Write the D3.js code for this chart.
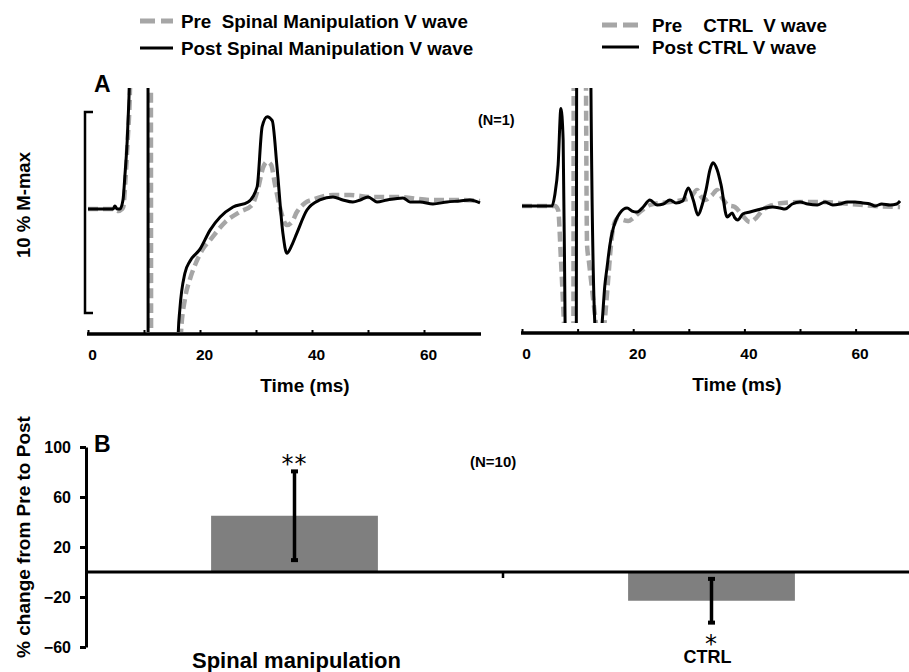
<!DOCTYPE html>
<html>
<head>
<meta charset="utf-8">
<script src="https://cdn.jsdelivr.net/npm/d3@7"></script>
<style>
  body { margin: 0; background: #fff; }
  svg { display: block; font-family: "Liberation Sans", Arial, sans-serif; font-weight: bold; }
</style>
</head>
<body>
<div id="chart"></div>
<script>
// ---- data (time in ms, amplitude in % M-max) ----
const timeTicks = [0, 10, 20, 30, 40, 50, 60];
const timeLabels = [0, 20, 40, 60];

// spinal manipulation, N=1 traces
const smPre = [[0,0],[4.8,0],[5.4,-0.1],[6.1,0],[6.3,0.1],[6.7,1.5],[7.1,3.5],[7.5,6],[7.7,9],[11.2,15],[11.3,-15],[16.0,-15],
  [16.6,-6.2],[17.3,-4.5],[18.2,-3.5],[19.1,-2.8],[20.5,-2.0],[21.8,-1.55],[24.5,-0.65],[27.1,-0.15],[29.3,0.2],
  [30.4,1.05],[31.25,2.05],[32,2.35],[32.7,2.2],[33.4,1.2],[34.3,0.05],[35.5,-0.8],[36.4,-0.65],[37.3,-0.15],
  [38.75,0.3],[40.5,0.5],[43.75,0.7],[46.8,0.7],[50.4,0.6],[55.7,0.6],[61,0.45],[66.4,0.45],[70,0.4]];
const smPost = [[0,0],[4.5,0],[4.8,0.15],[5.2,0],[5.7,0],[6.25,0.45],[6.6,1.7],[7.0,3.4],[7.3,5.4],[7.6,8],[10.7,15],[10.75,-15],[15.9,-15],
  [16.1,-6.3],[16.4,-5.0],[17.3,-3.2],[18.2,-2.6],[20.0,-2.0],[21.8,-1.05],[23.6,-0.4],[25.9,0.1],[28.6,0.35],
  [30.2,1.1],[31.1,4.1],[32.0,4.6],[32.9,4.4],[33.75,2.1],[34.8,-1.2],[35.5,-2.2],[36.4,-1.8],[37.3,-1.2],
  [39.1,-0.05],[41.4,0.45],[43.75,0.6],[45.5,0.45],[47.3,0.35],[48.6,0.45],[50,0.6],[51.6,0.35],[53.4,0.45],
  [56.25,0.55],[57.5,0.35],[59.3,0.35],[61.6,0.25],[64.1,0.35],[66.4,0.4],[68.2,0.45],[70,0.3]];

// control, N=1 traces
const ctrlPre = [[0,-0.05],[5.9,-0.05],[6.5,-0.25],[7.0,-2.7],[7.55,-5.9],[7.9,-8],[9.2,-15],[9.35,15],[11.3,15],
  [11.7,-2.0],[12.05,-2.85],[12.8,-4.7],[13.3,-5.9],[13.7,-7],[14.4,-7],[14.9,-5.7],[15.5,-3.7],[16.0,-2.0],
  [16.5,-1.0],[17.3,-0.65],[18.2,-0.75],[19.1,-0.8],[20,-0.65],[21.2,-0.35],[23,0],[24.8,0.1],[26.6,0.15],
  [28.9,0.25],[30.2,0.35],[31.5,0.75],[32,0.5],[32.9,0.25],[34.2,0.5],[35.1,0.75],[36,0.35],[37,0],[38.3,-0.1],
  [39.6,-0.5],[41,-0.85],[42.1,-0.65],[43.3,-0.25],[45.1,0],[46.9,0.1],[50,0.15],[53.6,0.15],[59,0.05],
  [63.5,-0.05],[68,-0.1]];
const ctrlPost = [[0,-0.05],[5.4,-0.05],[5.9,0.5],[6.5,2.0],[7.0,4.8],[7.4,3.25],[7.75,-5.9],[8.1,-15],[9.7,-15],[9.9,15],
  [12.2,15],[12.4,5.8],[13.1,-5.9],[13.7,-7.7],[14.4,-5.9],[14.9,-4.0],[15.3,-3.1],[15.8,-2.0],[16.2,-1.4],
  [16.9,-0.75],[17.6,-0.4],[18.9,-0.15],[19.8,-0.3],[20.7,-0.35],[21.8,-0.1],[23.0,0.25],[24.3,0],[25.4,0.05],
  [26.6,0.25],[27.7,0.1],[28.9,0.2],[29.9,0.85],[30.8,0.25],[31.65,-0.5],[32.4,0],[33.1,0.75],[33.8,1.75],
  [34.35,2.1],[35.1,1.75],[35.8,1.0],[36.9,-0.6],[37.8,-0.4],[38.3,-0.65],[38.8,-0.75],[39.7,-0.45],[41.0,-0.35],
  [42.3,-0.25],[43.7,-0.15],[45.1,-0.1],[46.4,-0.15],[47.3,-0.2],[48.6,0.05],[50,0.15],[51.4,0.05],[53.1,0],
  [54.5,0.15],[55.9,0],[57.2,0.05],[58.5,0.15],[59.9,0.15],[61.3,0.1],[62.6,0.05],[63.5,-0.05],[64.7,0.05],
  [66.2,0],[67.4,0.05],[68,0.2]];

// panel B, % change from pre to post (N=10)
const groups = ["Spinal manipulation", "CTRL"];
const meanChange = [45, -23];
const sdChange = [35.5, 17.5];
const stars = ["**", "*"];
const pctTicks = [100, 60, 20, -20, -60];

// ---- drawing ----
const width = 909, height = 672;
const svg = d3.select('#chart').append('svg')
  .attr('width', width).attr('height', height);

const gray = '#a6a6a6';

// legends
function legend(x, y, lineW, gap, rowH, items) {
  items.forEach((it, i) => {
    const yy = y + i * rowH;
    svg.append('line')
      .attr('x1', x).attr('x2', x + lineW).attr('y1', yy).attr('y2', yy)
      .attr('stroke', it.dash ? gray : '#000')
      .attr('stroke-width', it.dash ? 5 : 3)
      .attr('stroke-dasharray', it.dash ? '15,6' : null);
    svg.append('text')
      .attr('x', x + gap).attr('y', yy + 7)
      .attr('font-size', 18.8)
      .style('white-space', 'pre')
      .text(it.label);
  });
}
legend(140, 21, 33, 41, 27, [{label: 'Pre  Spinal Manipulation V wave', dash: true},
                 {label: 'Post Spinal Manipulation V wave', dash: false}]);
legend(602, 25, 37, 50, 22, [{label: 'Pre    CTRL  V wave', dash: true},
                 {label: 'Post CTRL V wave', dash: false}]);

// panel A traces
function tracePanel(opt) {
  const x = d3.scaleLinear().domain([0, 70]).range([opt.x0, opt.x0 + 70 * opt.pxPerMs]);
  const y = d3.scaleLinear().domain([-6.2, 6.0]).range([opt.base + 6.2 * 20.08, opt.base - 6.0 * 20.08]);
  const id = 'clip' + opt.id;
  svg.append('clipPath').attr('id', id).append('rect')
    .attr('x', opt.x0 - 2).attr('y', opt.clipTop)
    .attr('width', opt.axisEnd - opt.x0 + 4).attr('height', opt.clipBottom - opt.clipTop);
  const line = d3.line().x(d => x(d[0])).y(d => y(d[1])).curve(d3.curveMonotoneX);
  const g = svg.append('g').attr('clip-path', `url(#${id})`);
  g.append('path').datum(opt.pre)
    .attr('d', line).attr('fill', 'none')
    .attr('stroke', gray).attr('stroke-width', 4.5)
    .attr('stroke-dasharray', '10,5').attr('stroke-linejoin', 'round');
  g.append('path').datum(opt.post)
    .attr('d', line).attr('fill', 'none')
    .attr('stroke', '#000').attr('stroke-width', 3)
    .attr('stroke-linejoin', 'round');

  // time axis
  const ax = svg.append('g')
    .attr('transform', `translate(0,${opt.axisY})`)
    .call(d3.axisBottom(x).tickValues(timeTicks).tickSize(-3).tickSizeOuter(0)
      .tickFormat(d => timeLabels.includes(d) ? d : ''));
  ax.select('.domain').remove();
  ax.append('line').attr('x1', opt.x0 - 1).attr('x2', opt.axisEnd)
    .attr('stroke', '#000').attr('stroke-width', 3.5);
  ax.selectAll('.tick line').attr('stroke-width', 2).attr('transform', 'translate(0,-1)');
  ax.selectAll('.tick text')
    .attr('font-family', '"Liberation Sans", Arial, sans-serif')
    .attr('font-weight', 'bold').attr('font-size', 15.5)
    .attr('fill', '#000').attr('dx', 4).attr('y', 15);
  svg.append('text')
    .attr('x', opt.titleX).attr('y', opt.axisY + 58)
    .attr('text-anchor', 'middle').attr('font-size', 19)
    .text('Time (ms)');
  return {x, y};
}

tracePanel({id: 'L', x0: 88, pxPerMs: 5.6, base: 209, clipTop: 88, clipBottom: 332,
  axisY: 334, axisEnd: 481, titleX: 305, pre: smPre, post: smPost});
tracePanel({id: 'R', x0: 522, pxPerMs: 5.56, base: 205, clipTop: 88, clipBottom: 323,
  axisY: 333, axisEnd: 909, titleX: 737, pre: ctrlPre, post: ctrlPost});

// scale bar for 10 % M-max
svg.append('path')
  .attr('d', 'M93,112 H85 V313 H93')
  .attr('fill', 'none').attr('stroke', '#000').attr('stroke-width', 2.5);
svg.append('text')
  .attr('transform', 'translate(30,205) rotate(-90)')
  .attr('text-anchor', 'middle').attr('font-size', 18.5)
  .text('10 % M-max');
svg.append('text').attr('x', 94).attr('y', 92).attr('font-size', 23).text('A');
svg.append('text').attr('x', 478).attr('y', 125).attr('font-size', 14.5).text('(N=1)');

// panel B bars
const yB = d3.scaleLinear().domain([-60, 100]).range([647, 447]);
const xB = d3.scaleBand().domain(groups).range([86, 920]);
const barW = xB.bandwidth() * 0.4;

svg.selectAll('rect.bar')
  .data(groups)
  .enter().append('rect')
  .attr('class', 'bar')
  .attr('x', d => xB(d) + xB.bandwidth() / 2 - barW / 2)
  .attr('width', barW)
  .attr('y', (d, i) => yB(Math.max(0, meanChange[i])))
  .attr('height', (d, i) => Math.abs(yB(meanChange[i]) - yB(0)))
  .attr('fill', '#7f7f7f');

// error bars
groups.forEach((g, i) => {
  const cx = xB(g) + xB.bandwidth() / 2;
  const lo = meanChange[i] - sdChange[i], hi = meanChange[i] + sdChange[i];
  svg.append('line').attr('x1', cx).attr('x2', cx)
    .attr('y1', yB(lo)).attr('y2', yB(hi))
    .attr('stroke', '#000').attr('stroke-width', 3.5);
  [lo, hi].forEach(v => {
    svg.append('rect').attr('x', cx - 3.5).attr('y', yB(v) - 2)
      .attr('width', 7).attr('height', 4).attr('fill', '#000');
  });
  const sy = meanChange[i] > 0 ? yB(hi) + 1 : yB(lo) + 29;
  svg.append('text').attr('x', cx).attr('y', sy)
    .attr('text-anchor', 'middle').attr('font-weight', 'normal')
    .attr('font-family', '"DejaVu Sans", sans-serif')
    .attr('font-size', 24).attr('letter-spacing', 1)
    .text(stars[i]);
});

// zero line and middle tick
svg.append('line').attr('x1', 86).attr('x2', 909)
  .attr('y1', yB(0)).attr('y2', yB(0))
  .attr('stroke', '#000').attr('stroke-width', 3);
svg.append('line').attr('x1', xB(groups[1])).attr('x2', xB(groups[1]))
  .attr('y1', yB(0)).attr('y2', yB(0) + 6)
  .attr('stroke', '#000').attr('stroke-width', 2.5);

// y axis B
const ayB = svg.append('g').attr('transform', 'translate(86,0)')
  .call(d3.axisLeft(yB).tickValues(pctTicks).tickSize(6).tickSizeOuter(0));
ayB.select('.domain').attr('stroke-width', 3);
ayB.selectAll('.tick line').attr('stroke-width', 3);
ayB.selectAll('.tick text')
  .attr('font-family', '"Liberation Sans", Arial, sans-serif')
  .attr('font-weight', 'bold').attr('font-size', 16).attr('fill', '#000').attr('x', -15);

svg.append('text')
  .attr('transform', `translate(30,${537}) rotate(-90)`)
  .attr('text-anchor', 'middle').attr('font-size', 19)
  .text('% change from Pre to Post');
svg.append('text').attr('x', 94).attr('y', 452).attr('font-size', 23).text('B');
svg.append('text').attr('x', 470).attr('y', 467).attr('font-size', 15).text('(N=10)');

// category labels
svg.append('text').attr('x', xB(groups[0]) + xB.bandwidth() / 2 + 2).attr('y', 668)
  .attr('text-anchor', 'middle').attr('font-size', 22).text(groups[0]);
svg.append('text').attr('x', xB(groups[1]) + xB.bandwidth() / 2 - 4).attr('y', 663)
  .attr('text-anchor', 'middle').attr('font-size', 18).text(groups[1]);
</script>
</body>
</html>
